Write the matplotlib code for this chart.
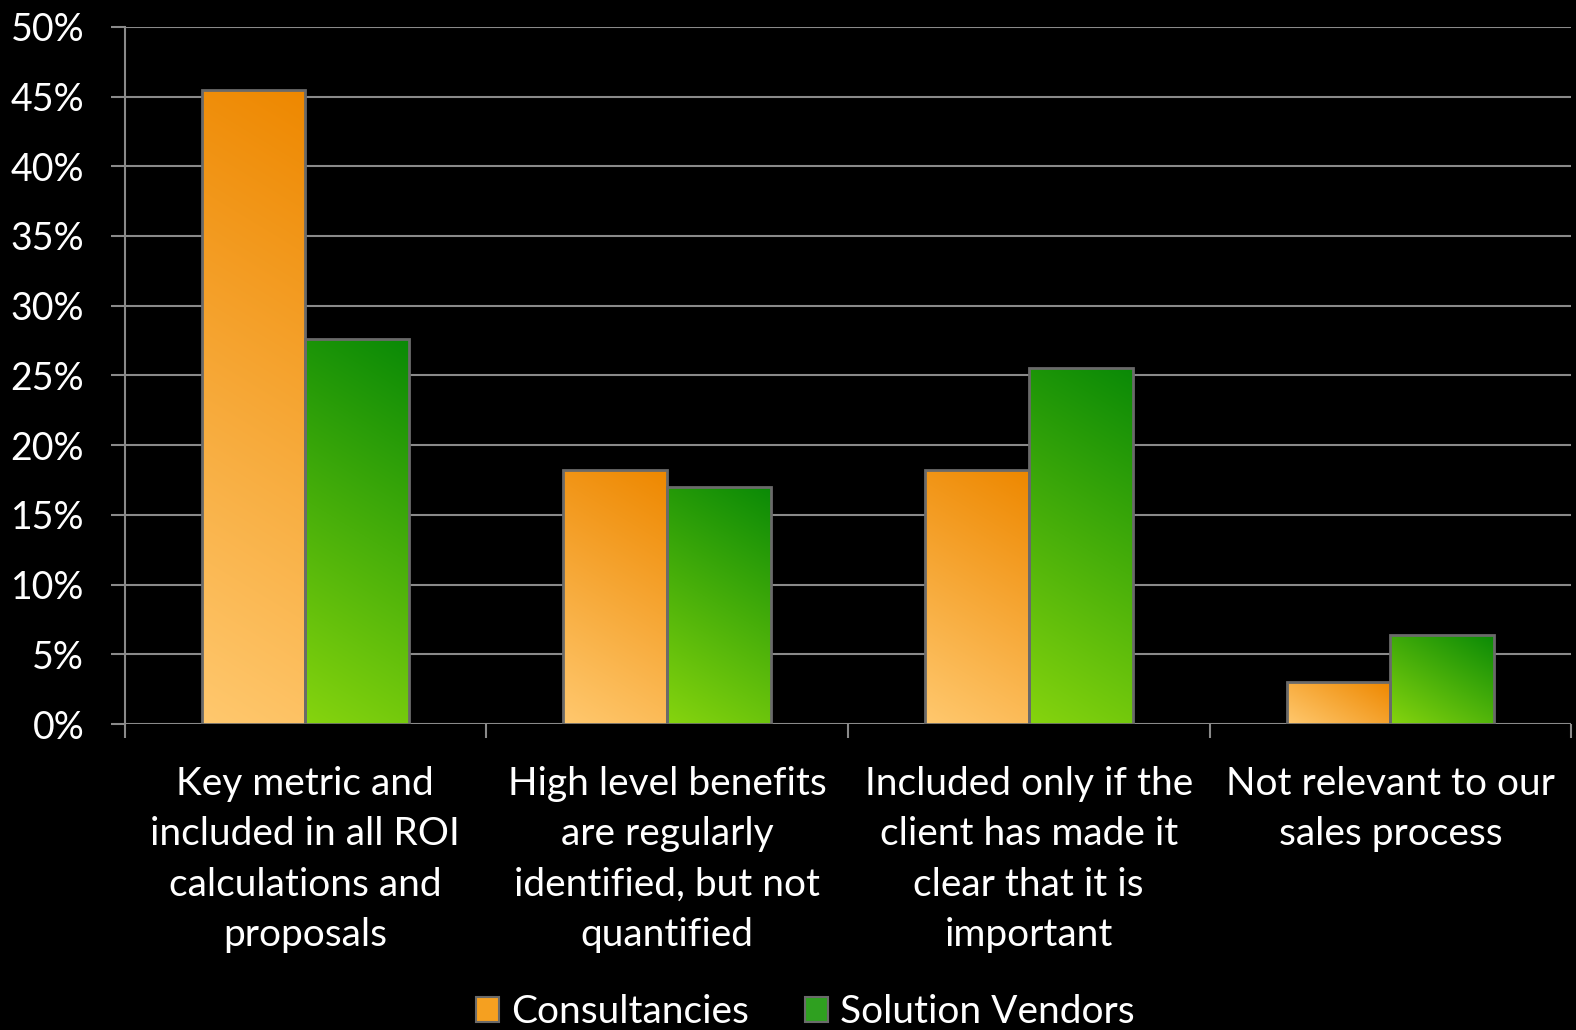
import numpy as np
import matplotlib.pyplot as plt
from matplotlib.colors import to_rgb
from matplotlib.patches import Patch

categories = ['Key metric and\nincluded in all ROI\ncalculations and\nproposals',
              'High level benefits\nare regularly\nidentified, but not\nquantified',
              'Included only if the\nclient has made it\nclear that it is\nimportant',
              'Not relevant to our\nsales process']
consultancies = [45.5, 18.2, 18.2, 3.0]
vendors = [27.6, 17.0, 25.5, 6.4]
series_names = ['Consultancies', 'Solution Vendors']
yticks = [0, 5, 10, 15, 20, 25, 30, 35, 40, 45, 50]

plt.rcParams['font.family'] = ['Lato', 'DejaVu Sans']

# (light bottom-left, dark top-right)
orange = ('#FFC86E', '#EE8800')
green = ('#86D40E', '#0A8A06')
grid_col = '#8a8a8a'


def fill_gradient(ax, bar, cols):
    x0, y0 = bar.get_x(), bar.get_y()
    w, h = bar.get_width(), bar.get_height()
    if h <= 0:
        return
    # pixel size of the bar, so the gradient angle is in screen space
    p0 = ax.transData.transform((x0, y0))
    p1 = ax.transData.transform((x0 + w, y0 + h))
    pw, ph = abs(p1[0] - p0[0]), abs(p1[1] - p0[1])
    nx, ny = 60, 200
    xx, yy = np.meshgrid(np.linspace(0, pw, nx), np.linspace(0, ph, ny))
    v = (xx * 0.6 + yy) / (pw * 0.6 + ph)
    lo, hi = np.array(to_rgb(cols[0])), np.array(to_rgb(cols[1]))
    img = lo + (hi - lo) * v[..., None]
    im = ax.imshow(img, extent=(x0, x0 + w, y0, y0 + h), origin='lower',
                   aspect='auto', zorder=2, interpolation='bilinear')
    im.set_clip_path(bar)


fig = plt.figure(figsize=(15.76, 10.30), dpi=100, facecolor='black')
ax = fig.add_axes([0.079, 0.297, 0.918, 0.677])
ax.set_facecolor('black')

x = np.arange(len(categories))
w = 0.287
b1 = ax.bar(x - w / 2, consultancies, w, color=orange[1], edgecolor='#6a6a6a',
            linewidth=2, zorder=3)
b2 = ax.bar(x + w / 2, vendors, w, color=green[1], edgecolor='#6a6a6a',
            linewidth=2, zorder=3)
for b in b1:
    b.set_facecolor('none')
for b in b2:
    b.set_facecolor('none')

ax.set_xlim(-0.5, len(categories) - 0.5)
ax.set_ylim(0, 50)
ax.set_yticks(yticks)
ax.set_yticklabels(['%d%%' % t for t in yticks])
ax.yaxis.grid(True, color=grid_col, linewidth=1.5, zorder=0)
ax.set_axisbelow(True)

ax.set_xticks(x)
ax.set_xticklabels(categories, linespacing=1.5)
ax.set_xticks(np.arange(len(categories) + 1) - 0.5, minor=True)
ax.tick_params(axis='x', which='major', length=0, pad=30, colors='white', labelsize=28)
ax.tick_params(axis='x', which='minor', length=10, width=1.5, color=grid_col)
ax.tick_params(axis='y', length=10, width=1.5, color=grid_col, labelcolor='white',
               labelsize=27, pad=19)

for s in ['top', 'right', 'bottom']:
    ax.spines[s].set_visible(False)
ax.spines['left'].set_color(grid_col)
ax.spines['left'].set_linewidth(1.5)
ax.spines['left'].set_bounds(0, 50)

fig.canvas.draw()
for b in b1:
    fill_gradient(ax, b, orange)
for b in b2:
    fill_gradient(ax, b, green)
ax.set_xlim(-0.5, len(categories) - 0.5)
ax.set_ylim(0, 50)

handles = [Patch(facecolor='#F5A020', edgecolor='#6a6a6a', linewidth=1.5),
           Patch(facecolor='#2FA020', edgecolor='#6a6a6a', linewidth=1.5)]
leg = fig.legend(handles, series_names, loc='center', bbox_to_anchor=(0.511, 1 - 1012 / 1030),
                 ncol=2, frameon=False, fontsize=28, handlelength=0.6, handleheight=0.6,
                 handletextpad=0.3, columnspacing=1.45)
for t in leg.get_texts():
    t.set_color('white')

fig.savefig('out.png', dpi=100, facecolor='black')
